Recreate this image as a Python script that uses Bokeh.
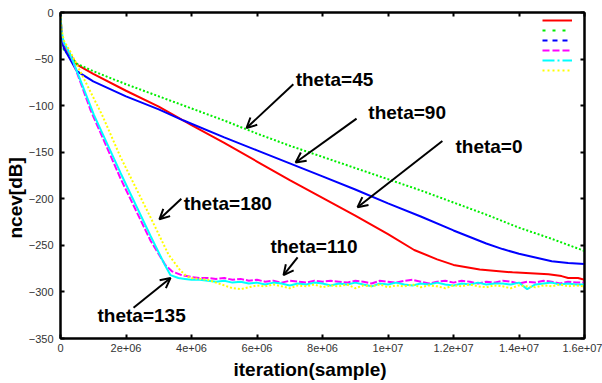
from bokeh.plotting import figure
from bokeh.models import (Range1d, FixedTicker, CustomJSTickFormatter, LinearAxis, Legend,
                          LegendItem, Label, Arrow, OpenHead, Title)
from bokeh.embed import file_html
from bokeh.resources import INLINE

M = 1e6
# ---- data (x in millions of samples, y in dB) ----
red_x = [0, 0.03, 0.1, 0.5, 1, 2, 3, 4, 5, 6, 7, 8, 9, 10, 10.8, 11.5, 12, 12.8, 13.8, 14.9, 15.3, 15.5, 15.8, 16]
red_y = [0, -22, -35, -56, -66, -84, -101, -121, -140, -160, -180, -199, -218, -238, -255, -265, -271, -276, -279, -281, -283, -285, -285, -287]

green_x = [0, 0.03, 0.1, 0.5, 1, 2, 3, 4, 5, 6, 7, 8, 9, 10, 11, 12, 13, 14, 15, 16]
green_y = [0, -28, -40, -55, -63, -77, -90, -103, -116, -130, -143, -155, -167, -179, -191, -204, -217, -231, -243, -256]

blue_x = [0, 0.03, 0.1, 0.5, 1, 2, 3, 3.76, 5, 6, 7, 8, 9, 10, 11, 12, 12.5, 13, 13.5, 14, 14.5, 15, 15.5, 16]
blue_y = [0, -25, -38, -63, -74, -90, -104, -116, -134, -148, -162, -176, -190, -205, -219, -234, -241, -248, -254, -259, -263, -267, -269, -270]

flat_x = [4.0, 4.25, 4.5, 4.75, 5.0, 5.25, 5.5,
          5.75, 6.0, 6.25, 6.5, 6.75, 7.0, 7.25,
          7.5, 7.75, 8.0, 8.25, 8.5, 8.75, 9.0,
          9.25, 9.5, 9.75, 10.0, 10.25, 10.5, 10.75,
          11.0, 11.25, 11.5, 11.75, 12.0, 12.25, 12.5,
          12.75, 13.0, 13.25, 13.5, 13.75, 14.0, 14.25,
          14.5, 14.75, 15.0, 15.25, 15.5, 15.75, 16.0]

mag_x = [0, 0.03, 0.1, 0.3, 0.92, 1.83, 2.75, 3.2, 3.41, 3.7] + flat_x
mag_y = [0, -22, -33, -45, -105, -178, -245, -271, -278, -282,
         -284, -285, -285, -286, -285, -287, -286,
         -288, -287, -289, -288, -290, -288, -289,
         -290, -288, -289, -288, -289, -290, -288,
         -289, -291, -288, -289, -290, -288, -287,
         -289, -291, -289, -288, -290, -288, -289,
         -291, -289, -290, -288, -289, -291, -289,
         -290, -288, -289, -291, -289, -290, -290]

cyan_x = [0, 0.03, 0.1, 0.3, 1.02, 1.83, 2.75, 3.2, 3.36, 3.6, 3.8] + flat_x
cyan_y = [0, -20, -32, -45, -110, -172, -240, -272, -282, -285, -286,
          -287, -287, -288, -289, -288, -290, -289,
          -291, -290, -292, -290, -291, -293, -291,
          -292, -290, -291, -293, -291, -292, -290,
          -292, -294, -291, -292, -290, -292, -293,
          -291, -292, -290, -292, -293, -291, -292,
          -290, -292, -291, -291, -292, -290, -297,
          -292, -291, -290, -292, -291, -292, -292]

yel_x = [0, 0.03, 0.1, 0.3, 1.27, 1.83, 2.75, 3.3, 3.66, 3.85] + flat_x
yel_y = [0, -18, -30, -42, -110, -155, -220, -260, -277, -283,
         -285, -286, -287, -290, -293, -296, -297,
         -295, -293, -294, -292, -294, -296, -293,
         -294, -292, -295, -293, -294, -292, -296,
         -293, -294, -292, -295, -293, -294, -292,
         -295, -293, -294, -296, -293, -294, -292,
         -294, -295, -293, -294, -296, -293, -294,
         -295, -293, -294, -292, -294, -293, -294]

x_ticks = [0, 2e6, 4e6, 6e6, 8e6, 1e7, 1.2e7, 1.4e7, 1.6e7]
y_ticks = [-350, -300, -250, -200, -150, -100, -50, 0]

x_title = "iteration(sample)"
y_title = "ncev[dB]"

# annotations: (text, text_x, text_y, arrow_x0, arrow_y0, arrow_x1, arrow_y1) in data units (x in millions)
notes = [
    ("theta=45", 7.18, -72, 7.11, -77, 5.68, -124),
    ("theta=90", 9.40, -107, 9.04, -114, 7.18, -161),
    ("theta=0", 12.06, -144, 11.66, -138, 9.07, -209),
    ("theta=180", 3.76, -205, 3.69, -200, 3.02, -222),
    ("theta=110", 6.41, -251, 7.24, -263, 6.81, -282),
    ("theta=135", 1.13, -325, 2.23, -317, 3.36, -285),
]

FONT = "Liberation Sans"

p = figure(width=602, height=383, output_backend="svg", toolbar_location=None,
           x_range=Range1d(0, 1.6e7), y_range=Range1d(-350, 0),
           min_border_left=60, min_border_top=12, min_border_right=18, min_border_bottom=45)
p.xgrid.visible = False
p.ygrid.visible = False
p.outline_line_color = "black"
p.outline_line_width = 2
p.background_fill_color = "white"

fmt = CustomJSTickFormatter(code="""
if (tick == 0) { return '0'; }
const s = tick.toExponential();
const parts = s.split('e');
const e = parts[1];
const sign = e[0];
let d = e.slice(1);
if (d.length < 2) { d = '0' + d; }
return parts[0] + 'e' + sign + d;
""")
blank = CustomJSTickFormatter(code="return '';")

for ax in p.xaxis:
    ax.ticker = FixedTicker(ticks=x_ticks)
    ax.formatter = fmt
for ax in p.yaxis:
    ax.ticker = FixedTicker(ticks=y_ticks)

for ax in list(p.xaxis) + list(p.yaxis):
    ax.major_tick_in = 4
    ax.major_tick_out = 0
    ax.minor_tick_in = 0
    ax.minor_tick_out = 0
    ax.axis_line_width = 2
    ax.major_tick_line_width = 2
    ax.major_label_text_font = FONT
    ax.major_label_text_font_size = "11px"
    ax.major_label_text_color = "#333333"

p.yaxis.major_label_standoff = 7
p.xaxis.major_label_standoff = 5

top = LinearAxis(ticker=FixedTicker(ticks=x_ticks), formatter=blank,
                 major_label_text_font_size="8px",
                 major_tick_in=4, major_tick_out=0, minor_tick_in=0, minor_tick_out=0,
                 axis_line_width=2, major_tick_line_width=2, major_label_standoff=0)
right = LinearAxis(ticker=FixedTicker(ticks=y_ticks), formatter=blank,
                   major_label_text_font_size="8px",
                   major_tick_in=4, major_tick_out=0, minor_tick_in=0, minor_tick_out=0,
                   axis_line_width=2, major_tick_line_width=2, major_label_standoff=0)
p.add_layout(top, "above")
p.add_layout(right, "right")

# axis titles as side-panel titles (offset from the frame start, like the reference)
p.add_layout(Title(text=y_title, align="left", offset=100, standoff=0,
                   text_font=FONT, text_font_size="19px", text_font_style="bold",
                   text_color="black"), "left")
p.add_layout(Title(text=x_title, align="left", offset=173, standoff=5,
                   text_font=FONT, text_font_size="19px", text_font_style="bold",
                   text_color="black"), "below")

def mx(xs):
    return [v * M for v in xs]

p.line(mx(red_x), red_y, line_color="#ff0000", line_width=2)
p.line(mx(green_x), green_y, line_color="#00ee00", line_width=2, line_dash="2 2")
p.line(mx(blue_x), blue_y, line_color="#0000ff", line_width=2)
p.line(mx(mag_x), mag_y, line_color="#ff00ff", line_width=2, line_dash="7 2")
p.line(mx(cyan_x), cyan_y, line_color="#00ffff", line_width=2)
p.line(mx(yel_x), yel_y, line_color="#ffff00", line_width=2, line_dash="2 2")

# legend keys (no labels, as in the reference)
leg_styles = [("#ff0000", "solid"), ("#00ee00", "3 7"), ("#0000ff", "5 5"),
              ("#ff00ff", "7 3"), ("#00ffff", "12 3 2 3"), ("#ffff00", "2 3")]
items = []
nan = float("nan")
for col, dash in leg_styles:
    r = p.line([nan], [nan], line_color=col, line_width=2, line_dash=dash)
    items.append(LegendItem(label="", renderers=[r]))
legend = Legend(items=items, location="top_right", glyph_width=30, glyph_height=10,
                label_standoff=9, label_width=0, label_height=10, spacing=0, padding=0, margin=3,
                border_line_alpha=0, background_fill_alpha=0, label_text_font_size="8px")
p.add_layout(legend)

for text, tx, ty, ax0, ay0, ax1, ay1 in notes:
    p.add_layout(Arrow(end=OpenHead(size=10, line_width=2, line_color="black"),
                       x_start=ax0 * M, y_start=ay0, x_end=ax1 * M, y_end=ay1,
                       line_width=2, line_color="black"))
    p.add_layout(Label(x=tx * M, y=ty, text=text, text_font=FONT, text_font_size="19px",
                       text_font_style="bold", text_baseline="middle", text_align="left",
                       text_color="black"))

open("out.html", "w").write(file_html(p, INLINE))
